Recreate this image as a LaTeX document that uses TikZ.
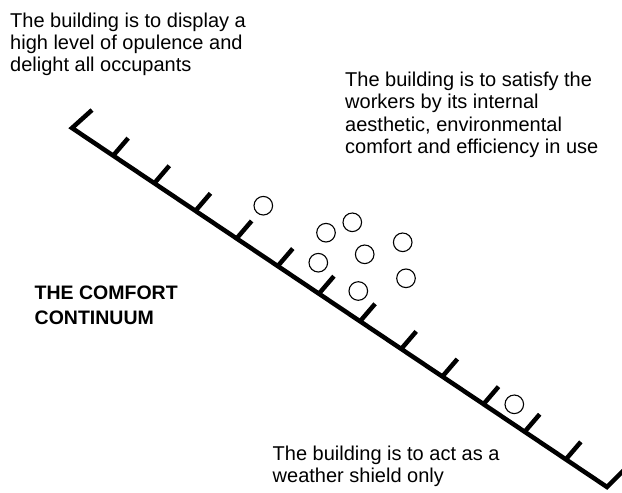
\documentclass[tikz,border=0pt]{standalone}
\usepackage{fontspec}
\setmainfont{Liberation Sans}
\usetikzlibrary{calc}
\begin{document}
\begin{tikzpicture}[x=1pt,y=-1pt,
  label/.style={anchor=north west,inner sep=0pt,align=left,font=\fontsize{20}{22.3}\selectfont},
  title/.style={anchor=north west,inner sep=0pt,align=left,font=\fontsize{19.5}{25.3}\selectfont\bfseries},
  dot/.style={circle,draw,line width=1.1pt,minimum size=18.6pt,inner sep=0pt},
  axis/.style={line width=4.5pt,line cap=butt,line join=miter}
]
\useasboundingbox (0,0) rectangle (622,493);
\fill[white] (0,0) rectangle (622,493);

% axis
\coordinate (s) at (72,128);
\coordinate (e) at (607,487);
\coordinate (scap) at (92,110);
\coordinate (ecap) at (627,467);
\draw[axis] (scap) -- (s) -- (e) -- (ecap);
\foreach \i in {1,...,12}{
  \coordinate (t\i) at ($(s)!\i/13!(e)$);
  \draw[axis] (t\i) -- ++(15,-17.5);
}

% circles
\node[dot] (c1) at (263.3,205.7) {};
\node[dot] (c2) at (326,232.7) {};
\node[dot] (c3) at (352.3,222.3) {};
\node[dot] (c4) at (402.7,242.3) {};
\node[dot] (c5) at (364.7,254.3) {};
\node[dot] (c6) at (318.3,262.7) {};
\node[dot] (c7) at (406,278.3) {};
\node[dot] (c8) at (358.3,291) {};
\node[dot] (c9) at (514.3,404.3) {};

% texts
\node[label] (top) at (10,12.5) {The building is to display a\\high level of opulence and\\delight all occupants};
\node[label] (right) at (345,72) {The building is to satisfy the\\workers by its internal\\aesthetic, environmental\\comfort and efficiency in use};
\node[label] (bottom) at (272.5,446) {The building is to act as a\\weather shield only};
\node[title] (ttl) at (34.5,285.5) {THE COMFORT\\CONTINUUM};
\end{tikzpicture}
\end{document}
